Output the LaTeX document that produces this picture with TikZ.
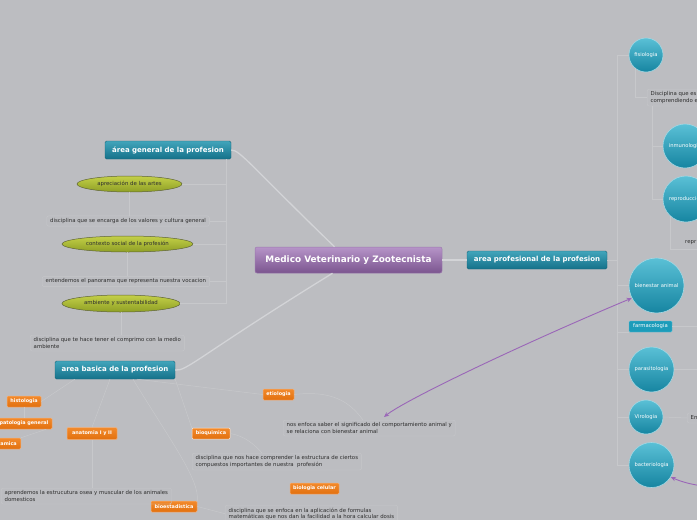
\documentclass[tikz,border=0pt]{standalone}
\usepackage{fontspec}
\setmainfont{DejaVu Sans}
\usetikzlibrary{arrows.meta,shapes.geometric}
\definecolor{bg}{HTML}{BCBDC1}
\definecolor{linec}{HTML}{C7C8CB}
\definecolor{mainline}{HTML}{D3D4D7}
\definecolor{boxline}{HTML}{C6C7CA}
\definecolor{tealT}{HTML}{41A5BB}
\definecolor{tealB}{HTML}{15718A}
\definecolor{tealD}{HTML}{17677B}
\definecolor{circT}{HTML}{5AC0D6}
\definecolor{circB}{HTML}{1685A1}
\definecolor{circD}{HTML}{A3D8E4}
\definecolor{purT}{HTML}{B694C8}
\definecolor{purB}{HTML}{7B558F}
\definecolor{purD}{HTML}{9C79AE}
\definecolor{grnT}{HTML}{C4D048}
\definecolor{grnB}{HTML}{8E9F25}
\definecolor{grnD}{HTML}{5F6436}
\definecolor{orgT}{HTML}{F28A2C}
\definecolor{orgB}{HTML}{E2700E}
\definecolor{orgD}{HTML}{F3B07A}
\definecolor{farmF}{HTML}{1C9CBA}
\definecolor{farmD}{HTML}{62C3D8}
\definecolor{arrowc}{HTML}{9A66B8}
\definecolor{txtc}{HTML}{2E2E2E}
\newcommand\myfs[2]{\fontsize{#1}{#2}\selectfont}
\tikzset{
  mainbox/.style={rectangle, rounded corners=2pt, top color=purT, bottom color=purB, draw=purD, line width=0.5pt, text=white, font=\bfseries\myfs{8.9}{10}, inner sep=0pt},
  tealbox/.style={rectangle, rounded corners=1.5pt, top color=tealT, bottom color=tealB, draw=tealD, line width=0.4pt, text=white, font=\bfseries\myfs{7}{8}, inner sep=0pt},
  grnell/.style={ellipse, top color=grnT, bottom color=grnB, draw=grnD, line width=0.5pt, text=txtc, font=\myfs{5.4}{6}, inner sep=0pt},
  orgbox/.style={rectangle, rounded corners=1pt, top color=orgT, bottom color=orgB, draw=orgD, line width=0.5pt, text=white, font=\bfseries\myfs{4.9}{5.5}, inner sep=0pt},
  circ/.style={circle, top color=circT, bottom color=circB, draw=circD, line width=0.6pt, text=white, font=\myfs{5.2}{6}, inner sep=0pt},
  farmbox/.style={rectangle, rounded corners=1pt, fill=farmF, draw=farmD, line width=0.4pt, text=white, font=\myfs{5.3}{6}, inner sep=0pt},
  txt/.style={font=\myfs{5.4}{6.6}, text=txtc, align=left, inner xsep=3.5pt, inner ysep=2.5pt},
  tbox/.style={draw=boxline, rounded corners=2pt, line width=0.4pt},
  conn/.style={draw=linec, line width=0.5pt},
  mconn/.style={draw=mainline, line width=1.3pt},
  parr/.style={draw=arrowc, line width=0.9pt}
}
\begin{document}
\begin{tikzpicture}[x=1pt,y=-1pt]
\useasboundingbox (0,0) rectangle (697,520);
\fill[bg] (0,0) rectangle (697,520);

% main nodes
\node[mainbox, minimum width=187pt, minimum height=26pt] (cen) at (348.5,260) {Medico Veterinario y Zootecnista};
\node[tealbox, minimum width=140pt, minimum height=18pt] (prof) at (537,260) {area profesional de la profesion};
\node[tealbox, minimum width=126pt, minimum height=18pt] (gen) at (168,150) {área general de la profesion};
\node[tealbox, minimum width=120pt, minimum height=18pt] (bas) at (115,370) {area basica de la profesion};

% general branch
\node[grnell, minimum width=105pt, minimum height=16pt] (artes) at (129.5,184) {apreciación de las artes};
\node[grnell, minimum width=131pt, minimum height=16pt] (ctx) at (127.5,244) {contexto social de la profesión};
\node[grnell, minimum width=118pt, minimum height=17pt] (amb) at (121,303.5) {ambiente y sustentabilidad};
\node[txt, tbox, anchor=west] (t1) at (46.5,221) {disciplina que se encarga de los valores y cultura general};
\node[txt, tbox, anchor=west] (t2) at (42,281.5) {entendemos el panorama que representa nuestra vocacion};
\node[txt, tbox, anchor=north west] (t3) at (30,335) {disciplina que te hace tener el comprimo con la medio\\ambiente};

% basic branch
\node[orgbox, minimum width=34pt, minimum height=11pt] (histo) at (24,401.5) {histologia};
\node[orgbox, minimum width=56pt, minimum height=11pt] (pato) at (24,423.5) {patologia general};
\node[orgbox, minimum height=11pt, anchor=east, inner xsep=4pt] (amica) at (21,443.5) {amica};
\node[orgbox, minimum width=50pt, minimum height=12pt] (anat) at (92,433.5) {anatomia I y II};
\node[orgbox, minimum width=38pt, minimum height=11pt, draw=white!75!orgD] (bioq) at (211,433.5) {bioquimica};
\node[orgbox, minimum width=31pt, minimum height=11pt] (etio) at (278.5,394.5) {etiologia};
\node[orgbox, minimum width=49pt, minimum height=11pt] (biocel) at (314.5,488.5) {biologia celular};
\node[orgbox, minimum width=46pt, minimum height=11pt] (bioest) at (174,506.5) {bioestadistica};
\node[txt, tbox, anchor=north west] (t4) at (1,488) {aprendemos la estrucutura osea y muscular de los animales\\domesticos};
\node[txt, tbox, anchor=north west] (t5) at (192,453) {disciplina que nos hace comprender la estructura de ciertos\\compuestos importantes de nuestra\ \ profesión};
\node[txt, tbox, anchor=north west] (t6) at (283,420) {nos enfoca saber el significado del comportamiento animal y\\se relaciona con bienestar animal};
\node[txt, tbox, anchor=north west] (t7) at (225,505) {disciplina que se enfoca en la aplicación de formulas\\matemáticas que nos dan la facilidad a la hora calcular dosis};

% professional branch
\node[circ, minimum size=34pt] (fisio) at (646,55) {fisiologia};
\node[circ, minimum size=44pt] (inmu) at (685,146) {inmunologia};
\node[circ, minimum size=46pt] (repro) at (686,199) {reproduccion};
\node[circ, minimum size=55pt] (bien) at (656.5,285.5) {bienestar animal};
\node[farmbox, minimum width=43pt, minimum height=11pt] (farma) at (650.5,326.5) {farmacologia};
\node[circ, minimum size=45pt] (para) at (651.5,369.5) {parasitologia};
\node[circ, minimum size=34pt] (viro) at (646,417) {Virologia};
\node[circ, minimum size=45pt] (bact) at (651.5,465) {bacteriologia};
\node[txt, tbox, anchor=north west] (disc) at (647,89) {Disciplina que es\\comprendiendo e};
\node[txt, anchor=west, inner xsep=0pt] (reprt) at (685,243) {repr};
\node[txt, tbox, anchor=west, minimum height=10pt] (ent) at (687,418) {En};

% coordinates for trunks and free ends
\coordinate (gx) at (226,0);
\coordinate (trx) at (617,0);
\coordinate (reprc) at (700,249);
\coordinate (parac) at (700,369.5);
\coordinate (farmc) at (700,326.5);
\coordinate (tipA) at (384,417);
\coordinate (offB) at (702,486);
\coordinate (dx) at ([xshift=5pt]disc.south west);

% main connectors
\draw[mconn] ([xshift=-14pt]cen.north) .. controls (250,165) and (240,150) .. (gen.east);
\draw[mconn] ([xshift=-16pt]cen.south) .. controls (200,355) and (186,372) .. (bas.east);
\draw[mconn] (cen.east) -- (prof.west);

% general tree
\draw[conn] (gen.south -| gx) -- (amb.east -| gx);
\draw[conn] (artes.east) -- (artes.east -| gx);
\draw[conn] (t1.east) -- (t1.east -| gx);
\draw[conn] (ctx.east) -- (ctx.east -| gx);
\draw[conn] (t2.east) -- (t2.east -| gx);
\draw[conn] (amb.east) -- (amb.east -| gx);
\draw[conn] (artes.south) -- (artes.south |- t1.north);
\draw[conn] (ctx.south) -- (ctx.south |- t2.north);
\draw[conn] (amb.south) -- (amb.south |- t3.north);

% basic tree
\draw[conn] ([xshift=20pt]bas.south west) -- (histo.east);
\draw[conn] (histo.south) -- (histo.south |- pato.north);
\draw[conn] ([xshift=-6pt]pato.south east) -- (amica.north east);
\draw[conn] ([xshift=-5pt]bas.south) -- (anat.north);
\draw[conn] (bas.south east) -- (bioq.north west);
\draw[conn] ([xshift=22pt]bas.south) -- (etio.west);
\draw[conn] ([xshift=18pt]bas.south) .. controls (170,440) and (200,480) .. (bioest.north east);
\draw[conn] (anat.south) -- (anat.south |- t4.north);
\draw[conn] (bioq.east) .. controls (245,436) and (255,445) .. ([xshift=70pt]t5.north west);
\draw[conn] (etio.east) .. controls (332,390) and (350,402) .. ([xshift=80pt]t6.north west);
\draw[conn] (bioest.east) -- (t7.west);

% professional tree
\draw[conn] (fisio.west) -- (fisio.west -| trx) |- (bact.west);
\draw[conn] (prof.east) -- (prof.east -| trx);
\draw[conn] (bien.west) -- (bien.west -| trx);
\draw[conn] (farma.south west) -- (farma.south west -| trx);
\draw[conn] (para.west) -- (para.west -| trx);
\draw[conn] (viro.west) -- (viro.west -| trx);
\draw[conn] (fisio.230) |- (disc.west);
\draw[conn] (dx) |- (repro.west);
\draw[conn] (inmu.west) -- (inmu.west -| dx);
\draw[conn] (repro.226) |- (reprc);
\draw[conn] (para.east) -- (parac);
\draw[conn] (farma.east) -- (farmc);
\draw[conn] (viro.east) -- (ent.west);

% purple arrows
\draw[parr, {Stealth[length=5pt,width=4.5pt]}-{Stealth[length=5pt,width=4.5pt]}] (tipA) .. controls (405,400) and (520,345) .. (bien.207);
\draw[parr, -{Stealth[length=5pt,width=4.5pt]}] (offB) .. controls (690,484) and (682,482) .. (bact.328);
\end{tikzpicture}
\end{document}
